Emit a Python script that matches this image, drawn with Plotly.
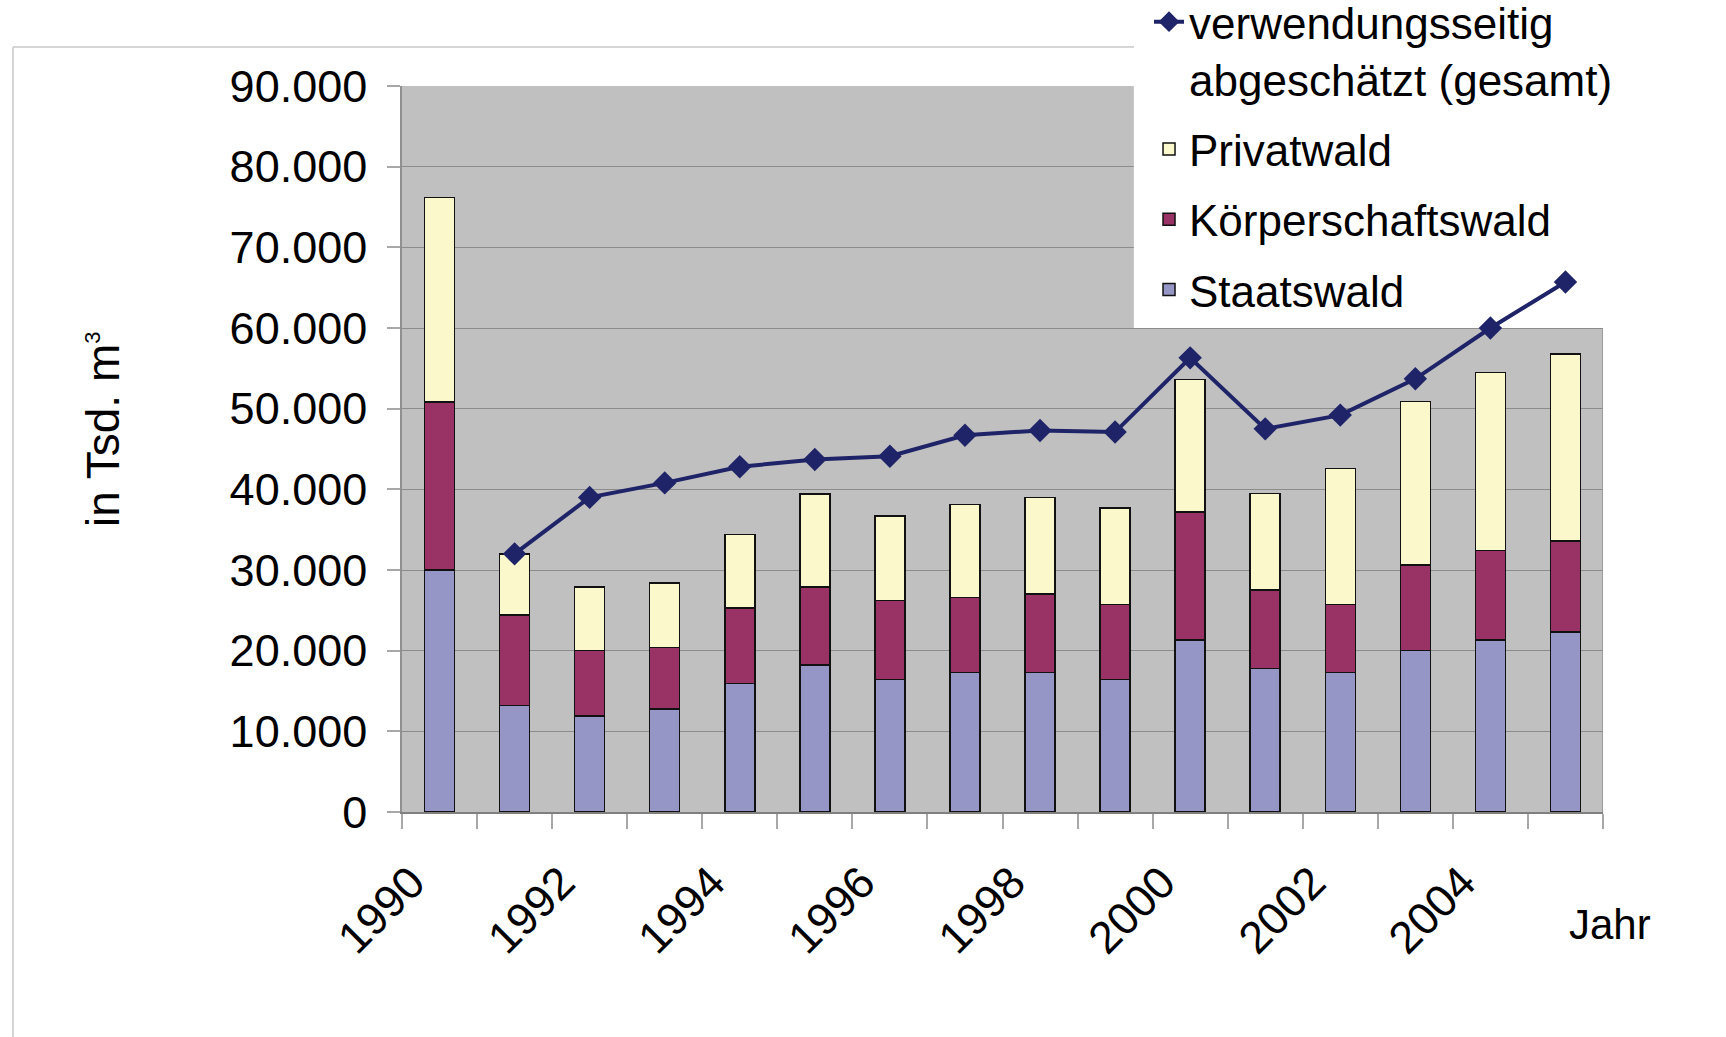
import plotly.graph_objects as go

years = [str(y) for y in range(1990, 2006)]
tick_labels = ["1990", "", "1992", "", "1994", "", "1996", "", "1998", "", "2000", "", "2002", "", "2004", ""]
y_ticks = list(range(0, 90001, 10000))

staatswald = [30000, 13200, 11900, 12800, 15900, 18200, 16400, 17300, 17300, 16400, 21300, 17800, 17300, 20000, 21300, 22300]
koerperschaftswald = [20800, 11200, 8100, 7600, 9400, 9700, 9800, 9300, 9700, 9300, 15900, 9700, 8400, 10600, 11100, 11300]
privatwald = [25400, 7600, 7900, 8000, 9100, 11500, 10500, 11500, 12000, 12000, 16400, 12000, 16900, 20300, 22100, 23200]
gesamt = [None, 32000, 39000, 40800, 42800, 43700, 44100, 46700, 47300, 47100, 56300, 47500, 49200, 53700, 60000, 65700]

FONT = "Liberation Sans, Arial, sans-serif"

fig = go.Figure()
fig.add_trace(go.Bar(x=years, y=staatswald, name="Staatswald", legendgroup="s", legendrank=4,
                     marker=dict(color="#9696C6", line=dict(color="#111111", width=1.5))))
fig.add_trace(go.Bar(x=years, y=koerperschaftswald, name="Körperschaftswald", legendgroup="k", legendrank=3,
                     marker=dict(color="#993366", line=dict(color="#111111", width=1.5))))
fig.add_trace(go.Bar(x=years, y=privatwald, name="Privatwald", legendgroup="p", legendrank=2,
                     marker=dict(color="#FBF8CC", line=dict(color="#111111", width=1.5))))
fig.add_trace(go.Scatter(x=years, y=gesamt, name="verwendungsseitig<br>abgeschätzt (gesamt)",
                         legendgroup="g", legendrank=1,
                         mode="lines+markers",
                         line=dict(color="#1F2468", width=4),
                         marker=dict(symbol="diamond", size=18, color="#1F2468")))

fig.update_layout(
    width=1726, height=1037,
    barmode="stack", bargap=0.6,
    separators=",.",
    paper_bgcolor="white", plot_bgcolor="#C0C0C0",
    font=dict(family=FONT, size=44, color="black"),
    margin=dict(l=402, r=123, t=86, b=225, autoexpand=False),
    showlegend=True,
    legend=dict(x=0.622, y=1.137, xanchor="left", yanchor="top",
                traceorder="grouped", tracegroupgap=10, valign="top",
                bgcolor="rgba(0,0,0,0)", font=dict(family=FONT, size=44, color="black")),
    xaxis=dict(type="category", range=[-0.5, 15.5], tickmode="array", tickvals=years, ticktext=tick_labels,
               tickson="boundaries", ticks="outside", ticklen=15, tickcolor="#A8A8A8", tickwidth=1.5,
               tickangle=-45, showgrid=False, showline=True, linecolor="#808080", linewidth=2,
               ticklabelstandoff=24, ticklabelshift=-28, tickfont=dict(size=45)),
    yaxis=dict(range=[0, 90000], tickmode="array", tickvals=y_ticks, tickformat=",d", ticks="outside", ticklen=13,
               tickcolor="#A8A8A8", tickwidth=1.5, showline=True, linecolor="#909090", linewidth=1.5,
               gridcolor="#8C8C8C", gridwidth=1.2, zeroline=False, ticklabelstandoff=11,
               tickfont=dict(size=45)),
    shapes=[
        dict(type="rect", xref="x", yref="y", x0=9.25, x1=15.6, y0=60000, y1=90000,
             fillcolor="white", line=dict(width=0), layer="between"),
        dict(type="line", xref="x", yref="y", x0=15.5, x1=15.5, y0=0, y1=60000,
             line=dict(color="#909090", width=1.5)),
        dict(type="line", xref="paper", yref="paper", x0=-0.3239, x1=-0.3239, y0=-0.32, y1=1.0537,
             line=dict(color="#C8C8C8", width=1.5)),
        dict(type="line", xref="paper", yref="paper", x0=-0.3239, x1=0.6095, y0=1.0537, y1=1.0537,
             line=dict(color="#C8C8C8", width=1.5)),
    ],
    annotations=[
        dict(text="in Tsd. m<sup><span style='font-size:22px'>3</span></sup>", xref="paper", yref="paper",
             x=-0.2490, y=0.5275,
             textangle=-90, showarrow=False, xanchor="center", yanchor="middle",
             font=dict(family=FONT, size=46, color="black")),
        dict(text="Jahr", xref="paper", yref="paper", x=1.0058, y=-0.1556,
             showarrow=False, xanchor="center", yanchor="middle",
             font=dict(family=FONT, size=42, color="black")),
    ],
)

fig.write_html("out.html", config={"displayModeBar": False},
               post_script="document.body.style.margin='0';")
